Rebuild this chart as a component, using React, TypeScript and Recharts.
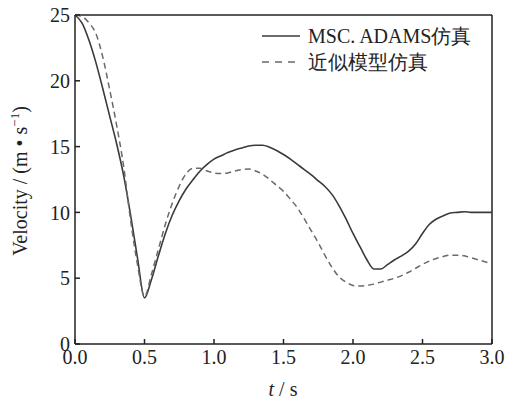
/**
 * VelocityChart — MSC.ADAMS simulation vs approximate model, velocity over time.
 */
import { LineChart, Line, XAxis, YAxis, Legend, ReferenceLine } from 'recharts';

const timeS = [
  0, 0.05, 0.1, 0.15, 0.2, 0.25, 0.3, 0.35, 0.4, 0.45,
  0.5, 0.55, 0.6, 0.65, 0.7, 0.75, 0.8, 0.85, 0.9, 0.95,
  1.0, 1.05, 1.1, 1.15, 1.2, 1.25, 1.3, 1.35, 1.4, 1.45,
  1.5, 1.55, 1.6, 1.65, 1.7, 1.75, 1.8, 1.85, 1.9, 1.95,
  2.0, 2.05, 2.1, 2.15, 2.2, 2.25, 2.3, 2.35, 2.4, 2.45,
  2.5, 2.55, 2.6, 2.65, 2.7, 2.75, 2.8, 2.85, 2.9, 2.95, 3.0,
];

const adamsV = [
  25, 24.4, 23.1, 21.4, 19.4, 17.3, 15.2, 12.8, 9.8, 6.5,
  3.5, 4.9, 6.7, 8.4, 9.8, 10.9, 11.8, 12.5, 13.15, 13.65,
  14.05, 14.3, 14.55, 14.75, 14.9, 15.05, 15.1, 15.1, 14.95, 14.7,
  14.4, 14.05, 13.65, 13.25, 12.85, 12.4, 11.95, 11.35, 10.5, 9.5,
  8.4, 7.4, 6.4, 5.7, 5.7, 6.05, 6.4, 6.7, 7.05, 7.6,
  8.4, 9.1, 9.5, 9.75, 9.95, 10.0, 10.05, 10.0, 10.0, 10.0, 10.0,
];

const approxV = [
  25, 24.9, 24.4, 23.6, 21.8, 19.3, 16.6, 13.5, 9.4, 6.0,
  3.6, 5.3, 7.2, 9.1, 10.7, 12.0, 12.95, 13.35, 13.35, 13.15,
  13.0, 12.95, 13.0, 13.15, 13.25, 13.3, 13.15, 12.9, 12.5, 12.05,
  11.6, 11.0, 10.35, 9.5, 8.6, 7.7, 6.7, 5.8, 5.1, 4.7,
  4.45, 4.4, 4.45, 4.55, 4.7, 4.85, 5.0, 5.2, 5.45, 5.75,
  6.05, 6.3, 6.5, 6.65, 6.75, 6.75, 6.7, 6.55, 6.4, 6.25, 6.1,
];

const xTicks = [0, 0.5, 1, 1.5, 2, 2.5, 3];
const yTicks = [0, 5, 10, 15, 20, 25];

const seriesNames = ['MSC. ADAMS仿真', '近似模型仿真'];

const FONT = "'Liberation Serif', 'DejaVu Serif', serif";
const AXIS = '#222';

const data = timeS.map((t, i) => ({ t, adams: adamsV[i], approx: approxV[i] }));

function LegendBox(props: { payload?: { value?: string; color?: string }[] }) {
  return (
    <div style={{ fontFamily: FONT, fontSize: 20, color: '#222', lineHeight: '26px' }}>
      {(props.payload ?? []).map((e, i) => (
        <div key={i} style={{ display: 'flex', alignItems: 'center', height: 26 }}>
          <svg width={46} height={10}>
            <line
              x1={0}
              x2={38}
              y1={5}
              y2={5}
              stroke={e.color}
              strokeWidth={1.5}
              strokeDasharray={i === 1 ? '7 6' : undefined}
            />
          </svg>
          <span>{e.value}</span>
        </div>
      ))}
    </div>
  );
}

function YLabel() {
  return (
    <text
      transform="translate(27, 181) rotate(-90)"
      textAnchor="middle"
      fontFamily={FONT}
      fontSize={20}
      fill="#222"
    >
      Velocity / (m • s
      <tspan fontSize={13} dy={-8}>−1</tspan>
      <tspan dy={8}>)</tspan>
    </text>
  );
}

function XLabel() {
  return (
    <text x={283} y={396} textAnchor="middle" fontFamily={FONT} fontSize={20} fill="#222">
      <tspan fontStyle="italic">t</tspan> / s
    </text>
  );
}

export default function App() {
  return (
    <div style={{ position: 'absolute', left: 0, top: 0, background: '#fff' }}>
      <LineChart width={507} height={400} data={data} margin={{ top: 15, right: 15, left: 0, bottom: 0 }}>
        <XAxis
          dataKey="t"
          type="number"
          domain={[0, 3]}
          ticks={xTicks}
          tickFormatter={(v: number) => v.toFixed(1)}
          height={56}
          tickSize={-5}
          tickMargin={11}
          tick={{ fill: '#222', fontSize: 20, fontFamily: FONT }}
          axisLine={{ stroke: AXIS, strokeWidth: 1.5 }}
          tickLine={{ stroke: AXIS, strokeWidth: 1.5 }}
          label={<XLabel />}
        />
        <YAxis
          type="number"
          domain={[0, 25]}
          ticks={yTicks}
          width={75}
          tickSize={-5}
          tickMargin={10}
          tick={{ fill: '#222', fontSize: 20, fontFamily: FONT }}
          axisLine={{ stroke: AXIS, strokeWidth: 1.5 }}
          tickLine={{ stroke: AXIS, strokeWidth: 1.5 }}
          label={<YLabel />}
        />
        {/* box frame: top and right edges */}
        <ReferenceLine y={25} stroke={AXIS} strokeWidth={1.5} />
        <ReferenceLine x={3} stroke={AXIS} strokeWidth={1.5} />
        <Legend
          layout="vertical"
          verticalAlign="top"
          content={<LegendBox />}
          wrapperStyle={{ left: 262, top: 23, width: 240, height: 0, overflow: 'visible' }}
        />
        <Line
          dataKey="adams"
          name={seriesNames[0]}
          type="monotone"
          stroke="#3a3a3a"
          strokeWidth={1.6}
          dot={false}
          isAnimationActive={false}
        />
        <Line
          dataKey="approx"
          name={seriesNames[1]}
          type="monotone"
          stroke="#6a6a6a"
          strokeWidth={1.5}
          strokeDasharray="6 4"
          dot={false}
          isAnimationActive={false}
        />
      </LineChart>
    </div>
  );
}
